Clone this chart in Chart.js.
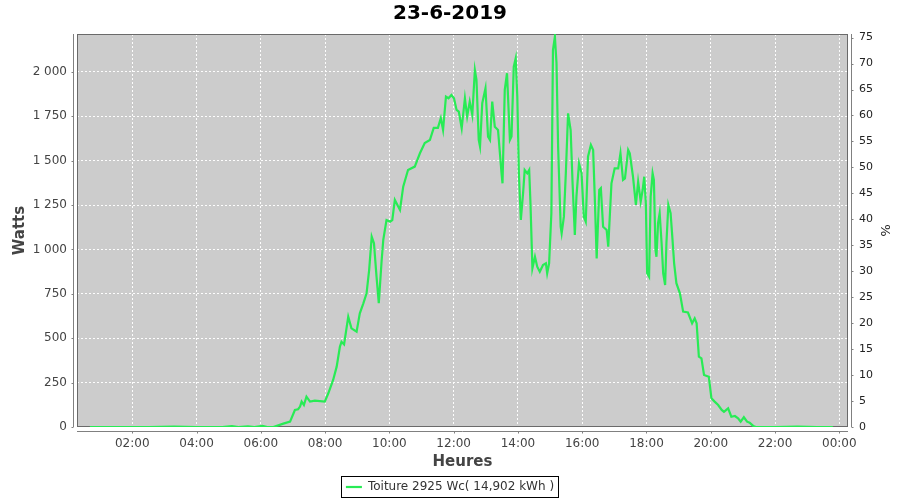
<!DOCTYPE html>
<html>
<head>
<meta charset="utf-8">
<script src="https://cdn.jsdelivr.net/npm/chart.js@4.4.1/dist/chart.umd.min.js"></script>
<style>
  html, body { margin: 0; padding: 0; background: #fff; }
  #wrap { width: 900px; height: 500px; }
</style>
</head>
<body>
<div id="wrap"><canvas id="chartProd"></canvas></div>
<script>
// --- données ---
const titre = "23-6-2019";
const serieNom = "Toiture 2925 Wc( 14,902 kWh )";
const puissanceCrete = 2925; // Wc, sert pour l'axe %

// heures décimales / puissance en watts
const heures = [
  0.68, 1.5, 2.5, 3.3, 4.0, 4.8, 5.1, 5.3, 5.6, 5.8, 6.05, 6.2, 6.39,
  6.70, 6.91, 7.06, 7.16, 7.22, 7.27, 7.34, 7.42, 7.53, 7.68, 7.99, 8.10,
  8.25, 8.36, 8.46, 8.51, 8.59, 8.72, 8.82, 8.98, 9.08, 9.19, 9.29, 9.37,
  9.45, 9.52, 9.60, 9.67, 9.76, 9.81, 9.91, 10.02, 10.09, 10.17, 10.33, 10.43,
  10.58, 10.79, 10.95, 11.10, 11.26, 11.38, 11.51, 11.60, 11.67, 11.76, 11.84, 11.93,
  12.01, 12.09, 12.16, 12.25, 12.35, 12.42, 12.50, 12.58, 12.66, 12.71, 12.78, 12.82,
  12.89, 12.99, 13.07, 13.13, 13.20, 13.28, 13.38, 13.49, 13.52, 13.59, 13.66, 13.75,
  13.80, 13.87, 13.93, 13.98, 14.03, 14.09, 14.16, 14.21, 14.29, 14.35, 14.39, 14.45,
  14.53, 14.60, 14.68, 14.78, 14.87, 14.91, 14.97, 15.04, 15.09, 15.15, 15.20, 15.25,
  15.33, 15.36, 15.43, 15.49, 15.56, 15.64, 15.70, 15.77, 15.82, 15.90, 15.98, 16.05,
  16.11, 16.18, 16.27, 16.34, 16.39, 16.45, 16.53, 16.58, 16.65, 16.76, 16.81, 16.91,
  17.01, 17.12, 17.19, 17.27, 17.33, 17.43, 17.48, 17.58, 17.67, 17.74, 17.82, 17.88,
  17.93, 17.98, 18.02, 18.08, 18.13, 18.19, 18.23, 18.28, 18.31, 18.36, 18.41, 18.47,
  18.52, 18.58, 18.62, 18.68, 18.75, 18.81, 18.86, 18.93, 19.04, 19.14, 19.29, 19.42,
  19.50, 19.56, 19.63, 19.71, 19.79, 19.94, 20.02, 20.12, 20.23, 20.34, 20.41, 20.54,
  20.64, 20.75, 20.85, 20.93, 21.03, 21.13, 21.21, 21.32, 21.40, 22.0, 22.7, 23.3,
  23.80
];
const watts = [
  0, 0, 0, 2, 0, 0, 5, 0, 4, 0, 6, 0, 0,
  19, 30, 96, 100, 115, 143, 124, 171, 143, 148, 143, 190,
  265, 340, 452, 480, 465, 621, 556, 537, 640, 697, 753, 884,
  1072, 1035, 847, 697, 941, 1054, 1166, 1157, 1166, 1279, 1223, 1354,
  1448, 1467, 1542, 1600, 1617, 1685, 1685, 1740, 1673, 1861, 1852, 1870,
  1852, 1786, 1777, 1683, 1852, 1749, 1833, 1758, 2011, 1955, 1617, 1580,
  1824, 1908, 1636, 1617, 1833, 1692, 1673, 1429, 1373, 1899, 1993, 1617,
  1636, 2030, 2077, 1861, 1429, 1166, 1317, 1448, 1429, 1448, 1260, 894,
  959, 903, 875, 913, 922, 866, 922, 1204, 2124, 2199, 2049, 1579,
  1128, 1091, 1185, 1429, 1767, 1673, 1373, 1082, 1298, 1486, 1429, 1185,
  1157, 1523, 1589, 1561, 1298, 950, 1335, 1345, 1128, 1110, 1016, 1373,
  1457, 1457, 1542, 1392, 1401, 1561, 1542, 1410, 1251, 1382, 1270, 1335,
  1410, 1260, 866, 847, 1298, 1429, 1392, 997, 959, 1148, 1204, 1035,
  866, 800, 1035, 1251, 1204, 1054, 922, 810, 753, 650, 645, 584,
  612, 584, 396, 387, 293, 283, 162, 143, 124, 96, 86, 105,
  58, 62, 49, 30, 55, 30, 24, 6, 0, 0, 2, 0,
  0
];

const ticksHeures = [2, 4, 6, 8, 10, 12, 14, 16, 18, 20, 22, 24];
const ticksWatts = [0, 250, 500, 750, 1000, 1250, 1500, 1750, 2000];
const ticksPourcent = [0, 5, 10, 15, 20, 25, 30, 35, 40, 45, 50, 55, 60, 65, 70, 75];

const heureMin = 0.28;
const heureMax = 24.27;
const wattsMax = 2214;

const police = "'DejaVu Sans', sans-serif";
const vert = "rgb(40, 235, 85)";

// format "2 000" à la française
function formatWatts(v) {
  if (v < 1000) return String(v);
  return Math.floor(v / 1000) + " " + String(v % 1000).padStart(3, "0");
}

// 🔹 fond gris du plot, axes décalés et cadre de la légende
const fondPlot = {
  id: "fondPlot",
  beforeDraw(chart) {
    const { ctx, chartArea: a } = chart;
    ctx.save();
    ctx.fillStyle = "#cccccc";
    ctx.fillRect(a.left, a.top, a.right - a.left, a.bottom - a.top);
    ctx.restore();
  },
  beforeDatasetsDraw(chart) {
    // cadre du plot sous la courbe (la ligne à 0 reste visible)
    const { ctx, chartArea: a } = chart;
    ctx.save();
    ctx.lineWidth = 1;
    ctx.strokeStyle = "#6a6a6a";
    ctx.strokeRect(a.left + 0.5, a.top + 0.5, a.right - a.left - 1, a.bottom - a.top - 1);
    ctx.restore();
  },
  afterDraw(chart) {
    const { ctx, chartArea: a, scales } = chart;
    ctx.save();
    ctx.lineWidth = 1;
    const xl = a.left - 3.5, yb = a.bottom + 4.5, xr = a.right + 3.5;
    ctx.strokeStyle = "#808080";
    ctx.beginPath();
    ctx.moveTo(xl, a.top); ctx.lineTo(xl, a.bottom);
    ctx.moveTo(a.left, yb); ctx.lineTo(a.right, yb);
    ctx.moveTo(xr, a.top); ctx.lineTo(xr, a.bottom);
    ticksWatts.forEach(v => {
      const y = Math.round(scales.y.getPixelForValue(v)) + 0.5;
      ctx.moveTo(xl - 2, y); ctx.lineTo(xl, y);
    });
    ticksPourcent.forEach(v => {
      const y = Math.round(scales.y1.getPixelForValue(v)) + 0.5;
      ctx.moveTo(xr, y); ctx.lineTo(xr + 2, y);
    });
    ticksHeures.forEach(v => {
      const x = Math.round(scales.x.getPixelForValue(v)) + 0.5;
      ctx.moveTo(x, yb); ctx.lineTo(x, yb + 2);
    });
    ctx.stroke();

    const hb = chart.legend.legendHitBoxes[0];
    if (hb) {
      ctx.strokeStyle = "#000";
      ctx.strokeRect(Math.round(hb.left) - 4.5, Math.round(hb.top) - 4.5, Math.round(hb.width) + 9, Math.round(hb.height) + 9);
    }
    ctx.restore();
  }
};

const ctx = document.getElementById("chartProd").getContext("2d");

new Chart(ctx, {
  type: "line",
  data: {
    datasets: [{
      label: serieNom,
      data: heures.map((h, i) => ({ x: h, y: watts[i] })),
      borderColor: vert,
      backgroundColor: vert,
      borderWidth: 2.2,
      pointRadius: 0,
      tension: 0,
      fill: false,
      yAxisID: "y"
    }]
  },
  options: {
    responsive: true,
    maintainAspectRatio: false,
    animation: false,
    layout: { padding: { top: 0, left: 0, right: 0, bottom: -3 } },
    plugins: {
      title: {
        display: true,
        text: titre,
        color: "#000",
        font: { family: police, size: 20, weight: "bold" },
        padding: { top: 2, bottom: 8 }
      },
      legend: {
        position: "bottom",
        labels: {
          usePointStyle: true,
          pointStyle: "line",
          pointStyleWidth: 16,
          color: "#333",
          font: { family: police, size: 12 },
          padding: 5
        }
      },
      tooltip: { enabled: false }
    },
    scales: {
      x: {
        type: "linear",
        min: heureMin,
        max: heureMax,
        afterBuildTicks: s => { s.ticks = ticksHeures.map(v => ({ value: v })); },
        afterFit: s => { s.height = 49; },
        ticks: {
          callback: v => String(v % 24).padStart(2, "0") + ":00",
          color: "#444",
          font: { family: police, size: 12 },
          padding: 10,
          maxRotation: 0,
          autoSkip: false
        },
        grid: { color: "rgba(255,255,255,0.95)", lineWidth: 1, drawTicks: false },
        border: { display: false, dash: [2, 2] },
        title: {
          display: true,
          text: "Heures",
          color: "#444",
          font: { family: police, size: 15, weight: "bold" },
          padding: { top: 0, bottom: 5 }
        }
      },
      y: {
        position: "left",
        min: 0,
        max: wattsMax,
        afterBuildTicks: s => { s.ticks = ticksWatts.map(v => ({ value: v })); },
        afterFit: s => { s.width = 77; },
        ticks: {
          callback: v => formatWatts(v),
          color: "#444",
          font: { family: police, size: 12 },
          padding: 10
        },
        grid: { color: "rgba(255,255,255,0.95)", lineWidth: 1, drawTicks: false },
        border: { display: false, dash: [2, 2] },
        title: {
          display: true,
          text: "Watts",
          color: "#444",
          font: { family: police, size: 15, weight: "bold" },
          padding: { top: 11, bottom: 0 }
        }
      },
      y1: {
        position: "right",
        min: 0,
        max: wattsMax / puissanceCrete * 100,
        afterBuildTicks: s => { s.ticks = ticksPourcent.map(v => ({ value: v })); },
        afterFit: s => { s.width = 52; },
        ticks: {
          color: "#222",
          font: { family: police, size: 11 },
          padding: 11
        },
        grid: { display: false, drawTicks: false },
        border: { display: false },
        title: {
          display: true,
          text: "%",
          color: "#222",
          font: { family: police, size: 13 },
          padding: { top: 8, bottom: 0 }
        }
      }
    }
  },
  plugins: [fondPlot]
});
</script>
</body>
</html>
